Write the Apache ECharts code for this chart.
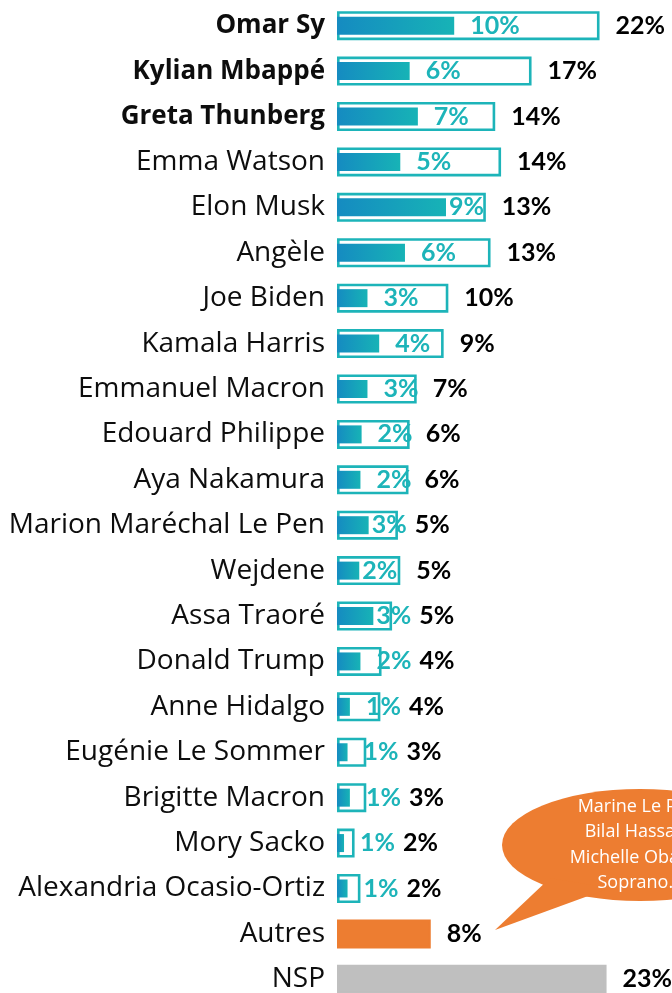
<!DOCTYPE html>
<html>
<head>
<meta charset="utf-8">
<script src="https://cdn.jsdelivr.net/npm/echarts@6/dist/echarts.min.js"></script>
<style>
  html, body { margin: 0; padding: 0; background: #fff; }
  #main { width: 672px; height: 993px; }
</style>
</head>
<body>
<div id="main"></div>
<script>
var names = ['Omar Sy', 'Kylian Mbappé', 'Greta Thunberg', 'Emma Watson', 'Elon Musk', 'Angèle',
  'Joe Biden', 'Kamala Harris', 'Emmanuel Macron', 'Edouard Philippe', 'Aya Nakamura',
  'Marion Maréchal Le Pen', 'Wejdene', 'Assa Traoré', 'Donald Trump', 'Anne Hidalgo',
  'Eugénie Le Sommer', 'Brigitte Macron', 'Mory Sacko', 'Alexandria Ocasio-Ortiz', 'Autres', 'NSP'];
// total citations (outlined bar)
var total = [22.4, 16.6, 13.5, 14.0, 12.7, 13.1, 9.5, 9.1, 6.8, 6.2, 6.1,
  5.2, 5.4, 4.7, 3.8, 3.7, 2.5, 2.5, 1.5, 2.0, 8.0, 23.0];
// first citation (filled bar)
var first = [10.0, 6.2, 6.9, 5.4, 9.3, 5.8, 2.6, 3.6, 2.6, 2.1, 2.0,
  2.7, 1.9, 3.1, 2.0, 1.1, 0.9, 1.1, 0.6, 0.9, null, null];
var otherNames = ['Marine Le Pen,', 'Bilal Hassani,', 'Michelle Obama,', 'Soprano...'];

var boldNames = ['Omar Sy', 'Kylian Mbappé', 'Greta Thunberg'];
var tightLabels = ['Elon Musk', 'Marion Maréchal Le Pen', 'Wejdene', 'Assa Traoré'];

var teal = '#1DB4B9';
var labelFont = 'Lato';
var nameFont = 'Open Sans';
var chartDom = document.getElementById('main');
var myChart = echarts.init(chartDom);

function innerDist(i) { return tightLabels.indexOf(names[i]) >= 0 ? 3 : 16; }

function totalData(outerDist) {
  return total.map(function (v, i) {
    var item = { value: v, label: { distance: outerDist ? outerDist[i] : 16 } };
    if (names[i] === 'Autres') item.itemStyle = { color: '#ED7D31', borderColor: '#ED7D31' };
    if (names[i] === 'NSP') item.itemStyle = { color: '#BFBFBF', borderColor: '#BFBFBF' };
    return item;
  });
}

var gradient = new echarts.graphic.LinearGradient(0, 0, 1, 0, [
  { offset: 0, color: '#158BC1' },
  { offset: 1, color: '#17B3B6' }
]);

var option = {
  animation: false,
  grid: { left: 337, right: 42, top: 3, height: 999, containLabel: false, outerBoundsMode: 'none' },
  xAxis: { type: 'value', min: 0, max: 25, show: false, splitLine: { show: false } },
  yAxis: [
    {
      type: 'category', inverse: true, data: names,
      axisLine: { show: false }, axisTick: { show: false },
      axisLabel: {
        margin: 12,
        formatter: function (v) { return boldNames.indexOf(v) >= 0 ? '{b|' + v + '}' : '{n|' + v + '}'; },
        rich: {
          b: { fontFamily: nameFont, fontSize: 26, fontWeight: 'bold', color: '#0D0D0D' },
          n: { fontFamily: nameFont, fontSize: 28, color: '#0D0D0D' }
        }
      }
    },
    { type: 'category', inverse: true, data: names, show: false }
  ],
  series: [
    {
      name: 'Total', type: 'bar', yAxisIndex: 0, barWidth: 29,
      itemStyle: { color: 'rgba(255,255,255,0)', borderColor: teal, borderWidth: 2.6 },
      label: {
        show: true, position: 'right', distance: 16,
        fontFamily: labelFont, fontSize: 25, fontWeight: 'bold', color: '#000',
        formatter: function (p) { return Math.round(p.value) + '%'; }
      },
      data: totalData(null)
    },
    {
      name: 'Premier', type: 'bar', yAxisIndex: 1, barWidth: 18,
      itemStyle: { color: gradient },
      label: {
        show: true, position: 'right',
        fontFamily: labelFont, fontSize: 25, fontWeight: 'bold', color: teal,
        formatter: function (p) { return Math.round(p.value) + '%'; }
      },
      data: first.map(function (v, i) {
        return v === null ? '-' : { value: v, label: { distance: innerDist(i) } };
      })
    }
  ],
  graphic: [
    {
      type: 'group',
      children: [
        { type: 'circle', x: 640, y: 845, scaleX: 138 / 56, shape: { cx: 0, cy: 0, r: 56 }, style: { fill: '#ED7D31' } },
        { type: 'polygon', shape: { points: [[495, 930], [550, 878], [610, 888]] }, style: { fill: '#ED7D31' } },
        {
          type: 'text', x: 640, y: 845,
          style: {
            text: otherNames.join('\n'), fill: '#fff', font: '18px "Open Sans"',
            align: 'center', verticalAlign: 'middle', lineHeight: 25.5
          }
        }
      ]
    }
  ]
};

myChart.setOption(option);

// push the black total label past the teal label when they would collide
var ctx = document.createElement('canvas').getContext('2d');
ctx.font = 'bold 25px ' + labelFont;
var outerDist = total.map(function (v, i) {
  var outerPx = myChart.convertToPixel({ xAxisIndex: 0 }, v);
  if (first[i] === null) return 16;
  var innerPx = myChart.convertToPixel({ xAxisIndex: 0 }, first[i]);
  var innerEnd = innerPx + innerDist(i) + ctx.measureText(Math.round(first[i]) + '%').width;
  return Math.max(16, innerEnd + 8 - outerPx);
});
myChart.setOption({ series: [{ data: totalData(outerDist) }] });
</script>
</body>
</html>
